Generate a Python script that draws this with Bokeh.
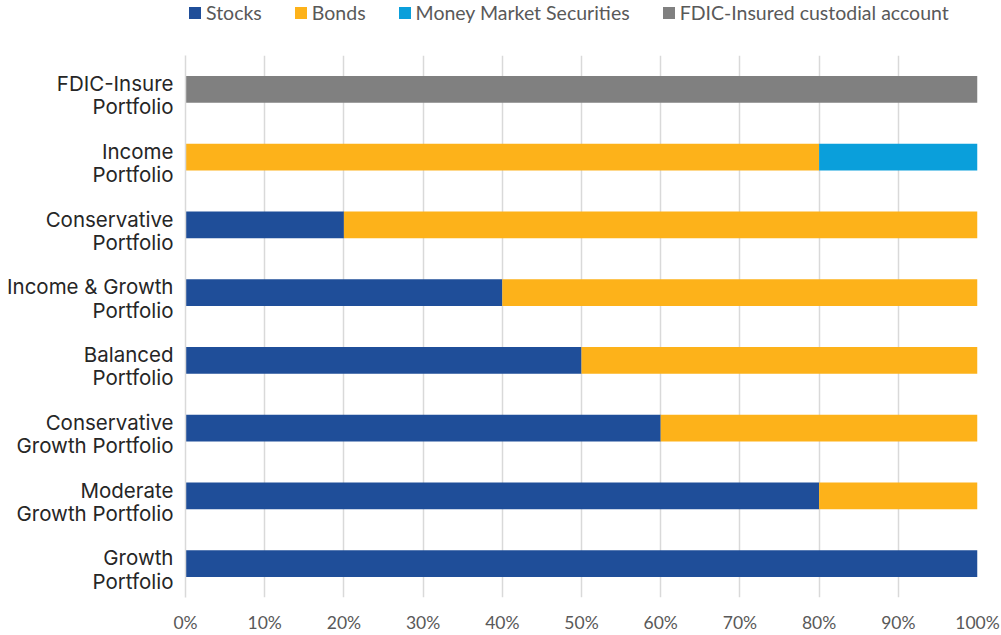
from bokeh.plotting import figure
from bokeh.models import ColumnDataSource, Legend, LegendItem, NumeralTickFormatter, FixedTicker
from bokeh.layouts import column
from bokeh.embed import file_html
from bokeh.resources import INLINE

# Data (top to bottom as displayed)
portfolios = ["FDIC-Insure\nPortfolio", "Income\nPortfolio", "Conservative\nPortfolio",
              "Income & Growth\nPortfolio", "Balanced\nPortfolio", "Conservative\nGrowth Portfolio",
              "Moderate\nGrowth Portfolio", "Growth\nPortfolio"]
stocks = [0, 0, 20, 40, 50, 60, 80, 100]
bonds = [0, 80, 80, 60, 50, 40, 20, 0]
money_market = [0, 20, 0, 0, 0, 0, 0, 0]
fdic = [100, 0, 0, 0, 0, 0, 0, 0]
series = ["Stocks", "Bonds", "Money Market Securities", "FDIC-Insured custodial account"]
colors = ["#1F4E99", "#FDB21A", "#0A9FDB", "#808080"]
x_ticks = [0, 0.1, 0.2, 0.3, 0.4, 0.5, 0.6, 0.7, 0.8, 0.9, 1.0]

n = len(portfolios)
ypos = [n - 1 - i for i in range(n)]  # first category at top
label_shift = 0.085  # labels sit slightly below bar centre, as in the reference

src = ColumnDataSource(dict(
    y=ypos,
    s0=[v / 100 for v in stocks],
    s1=[v / 100 for v in bonds],
    s2=[v / 100 for v in money_market],
    s3=[v / 100 for v in fdic],
))

p = figure(width=1001, height=595, output_backend="svg", toolbar_location=None,
           y_range=(-0.5, n - 0.5), x_range=(0, 1))
p.min_border_left = 185
p.min_border_right = 24
p.min_border_bottom = 30
p.min_border_top = 15
p.outline_line_color = None

renderers = p.hbar_stack(["s0", "s1", "s2", "s3"], y="y", height=0.395, color=colors,
                         source=src, line_color=None)

p.xaxis.ticker = FixedTicker(ticks=x_ticks)
p.xaxis.formatter = NumeralTickFormatter(format="0%")
p.xaxis.axis_line_color = None
p.xaxis.major_tick_line_color = None
p.xaxis.minor_tick_line_color = None
p.xaxis.major_tick_out = 0
p.xaxis.major_tick_in = 0
p.xaxis.major_label_text_font = "Lato"
p.xaxis.major_label_text_font_size = "17.5px"
p.xaxis.major_label_text_color = "#595959"
p.xaxis.major_label_standoff = 14

tick_pos = [round(y - label_shift, 3) for y in ypos]
p.yaxis.ticker = FixedTicker(ticks=tick_pos)
p.yaxis.major_label_overrides = {t: lab for t, lab in zip(tick_pos, portfolios)}
p.yaxis.axis_line_color = "#D9D9D9"
p.yaxis.axis_line_width = 1.5
p.yaxis.major_tick_line_color = None
p.yaxis.minor_tick_line_color = None
p.yaxis.major_tick_out = 0
p.yaxis.major_label_text_font = "Inter"
p.yaxis.major_label_text_font_size = "20.5px"
p.yaxis.major_label_text_line_height = 0.93
p.yaxis.major_label_text_color = "#262626"
p.yaxis.major_label_standoff = 12

p.xgrid.grid_line_color = "#D9D9D9"
p.xgrid.grid_line_width = 1.5
p.ygrid.grid_line_color = None

# Legend strip on top (its frame is aligned with the chart frame by the column layout)
lg = figure(width=1001, height=40, output_backend="svg", toolbar_location=None,
            x_range=(0, 1), y_range=(0, 1), min_border=0)
lg.axis.visible = False
lg.grid.visible = False
lg.outline_line_color = None
dummies = [lg.hbar(y=[-5], left=[0], right=[0], height=0.5, color=c, line_color=None) for c in colors]
legend = Legend(items=[LegendItem(label=series[i], renderers=[dummies[i]]) for i in range(4)],
                orientation="horizontal", location=(2, 16))
legend.label_text_font = "Lato"
legend.label_text_font_size = "19.5px"
legend.label_text_color = "#595959"
legend.glyph_width = 15
legend.glyph_height = 15
legend.label_standoff = 4
legend.spacing = 31
legend.padding = 0
legend.margin = 0
legend.border_line_color = None
legend.background_fill_alpha = 0
legend.label_height = 20
lg.add_layout(legend, "center")

layout = column(lg, p, spacing=0)
open("out.html", "w").write(file_html(layout, INLINE))
